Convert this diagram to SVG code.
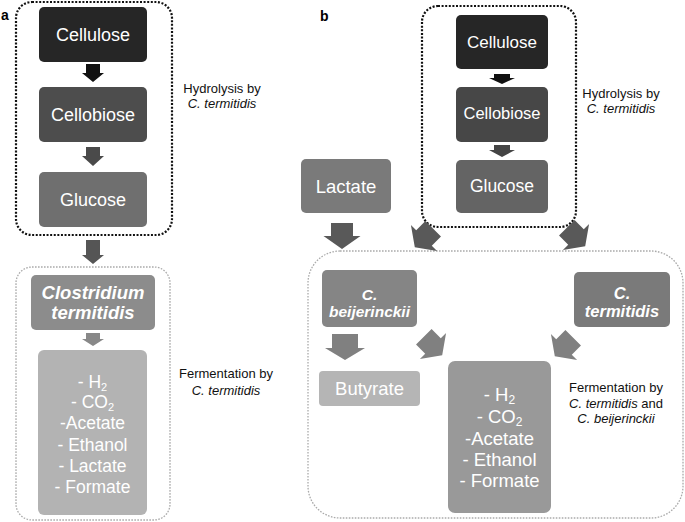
<svg xmlns="http://www.w3.org/2000/svg" width="685" height="522" viewBox="0 0 685 522">
<style>
text{font-family:"Liberation Sans",Arial,sans-serif}
.w{fill:#fff;text-anchor:middle}
.bi{font-weight:bold;font-style:italic}
.k{fill:#111;text-anchor:middle;font-size:13px}
.it{font-style:italic}
.hyd{fill:none;stroke:#111;stroke-width:2.2;stroke-dasharray:2 1.6}
.fer{fill:none;stroke:#aaa;stroke-width:1.3;stroke-dasharray:1.6 1.4}
.lbl{font-weight:bold;font-size:14px;fill:#000}
</style>
<rect width="685" height="522" fill="#fff"/>
<text class="lbl" x="1" y="20">a</text>
<text class="lbl" x="320" y="21">b</text>

<g id="groups">
<rect id="hydrolysis-a" class="hyd" x="16" y="2" width="156" height="233" rx="16"/>
<rect id="fermentation-a" class="fer" x="16" y="267" width="154" height="253" rx="16"/>
<rect id="hydrolysis-b" class="hyd" x="422" y="6" width="154" height="221" rx="16"/>
<rect id="fermentation-b" class="fer" x="308" y="251" width="375" height="267" rx="32"/>
</g>

<g id="connectors">
<path fill="#111" d="M86,64h14v9h4l-11,9l-11,-9h4z"/>
<path fill="#4a4a4a" d="M86,147h14v9h4l-11,10l-11,-10h4z"/>
<path fill="#555" d="M86,240h14v15h4l-11,9l-11,-9h4z"/>
<path fill="#888" d="M86,333h14v6h4l-11,7l-11,-7h4z"/>
<path fill="#111" d="M494,74h16v4h5l-13,6l-13,-6h5z"/>
<path fill="#444" d="M494,145h16v5h5l-13,7l-13,-7h5z"/>
<path fill="#595959" transform="translate(342,236)" d="M-11,-13h22v13h7.5l-18.5,13l-18.5,-13h7.5z"/>
<path fill="#595959" transform="translate(424,238) rotate(45)" d="M-11,-13h22v13h7.5l-18.5,13l-18.5,-13h7.5z"/>
<path fill="#595959" transform="translate(576,237) rotate(-45)" d="M-11,-13h22v13h7.5l-18.5,13l-18.5,-13h7.5z"/>
<path fill="#808080" transform="translate(345,348)" d="M-13,-14h26v14h7l-20,12l-20,-12h7z"/>
<path fill="#808080" transform="translate(433,346) rotate(-45)" d="M-11,-13h22v13h7.5l-18.5,13l-18.5,-13h7.5z"/>
<path fill="#808080" transform="translate(564,347) rotate(45)" d="M-11,-13h22v13h7.5l-18.5,13l-18.5,-13h7.5z"/>
</g>

<g id="cellulose-a"><rect x="39" y="7" width="108" height="55" rx="5" fill="#262626"/><text class="w" x="93" y="41" font-size="18">Cellulose</text></g>
<g id="cellobiose-a"><rect x="39" y="87" width="108" height="55" rx="5" fill="#4d4d4d"/><text class="w" x="93" y="121" font-size="18">Cellobiose</text></g>
<g id="glucose-a"><rect x="39" y="172" width="108" height="55" rx="5" fill="#6f6f6f"/><text class="w" x="93" y="206" font-size="18">Glucose</text></g>
<g id="hydrolysis-a-label"><text class="k" x="222" y="93">Hydrolysis by</text><text class="k it" x="222" y="108">C. termitidis</text></g>

<g id="clostridium-a"><rect x="31" y="275" width="124" height="55" rx="5" fill="#8c8c8c"/><text class="w bi" x="93" y="298.5" font-size="18.5">Clostridium</text><text class="w bi" x="93" y="318.5" font-size="18.5">termitidis</text></g>
<g id="products-a"><rect x="38" y="350" width="109" height="165" rx="6" fill="#b3b3b3"/>
<g font-size="17.5">
<text class="w" x="92.5" y="388">- H<tspan dy="3" font-size="11">2</tspan></text>
<text class="w" x="92.5" y="408">- CO<tspan dy="3" font-size="11">2</tspan></text>
<text class="w" x="92.5" y="429">-Acetate</text>
<text class="w" x="92.5" y="451">- Ethanol</text>
<text class="w" x="92.5" y="472">- Lactate</text>
<text class="w" x="92.5" y="493">- Formate</text>
</g></g>
<g id="fermentation-a-label"><text class="k" x="226" y="378">Fermentation by</text><text class="k it" x="226" y="395">C. termitidis</text></g>

<g id="cellulose-b"><rect x="456" y="15" width="92" height="54" rx="5" fill="#262626"/><text class="w" x="502" y="48" font-size="17">Cellulose</text></g>
<g id="cellobiose-b"><rect x="456" y="87" width="92" height="55" rx="5" fill="#474747"/><text class="w" x="502" y="119" font-size="16.5">Cellobiose</text></g>
<g id="glucose-b"><rect x="456" y="160" width="92" height="53" rx="5" fill="#646464"/><text class="w" x="502" y="192" font-size="17.5">Glucose</text></g>
<g id="hydrolysis-b-label"><text class="k" x="621" y="98">Hydrolysis by</text><text class="k it" x="621" y="113">C. termitidis</text></g>
<g id="lactate-b"><rect x="301" y="159" width="90" height="54" rx="5" fill="#7a7a7a"/><text class="w" x="346" y="192.5" font-size="18.5">Lactate</text></g>

<g id="beijerinckii-b"><rect x="322" y="270" width="95" height="57" rx="5" fill="#858585"/><text class="w bi" x="369.5" y="300" font-size="15.5">C.</text><text class="w bi" x="369.5" y="317" font-size="15.5">beijerinckii</text></g>
<g id="termitidis-b"><rect x="574" y="272" width="96" height="55" rx="5" fill="#7a7a7a"/><text class="w bi" x="622" y="299" font-size="16.5">C.</text><text class="w bi" x="622" y="317" font-size="16.5">termitidis</text></g>
<g id="butyrate-b"><rect x="319" y="371" width="101" height="35" rx="4" fill="#b5b5b5"/><text class="w" x="369.5" y="394.5" font-size="18.5">Butyrate</text></g>
<g id="products-b"><rect x="448" y="361" width="103" height="152" rx="7" fill="#999"/>
<text class="w" x="499.5" y="401" font-size="18.5">- H<tspan dy="3" font-size="12">2</tspan></text>
<text class="w" x="499.5" y="423" font-size="18.5">- CO<tspan dy="3" font-size="12">2</tspan></text>
<text class="w" x="499.5" y="445" font-size="18.5">-Acetate</text>
<text class="w" x="499.5" y="466" font-size="18.5">- Ethanol</text>
<text class="w" x="499.5" y="487" font-size="18.5">- Formate</text>
</g>
<g id="fermentation-b-label"><text class="k" x="616" y="392">Fermentation by</text><text class="k" x="616" y="408"><tspan class="it">C. termitidis</tspan> and</text><text class="k it" x="616" y="423">C. beijerinckii</text></g>
</svg>
